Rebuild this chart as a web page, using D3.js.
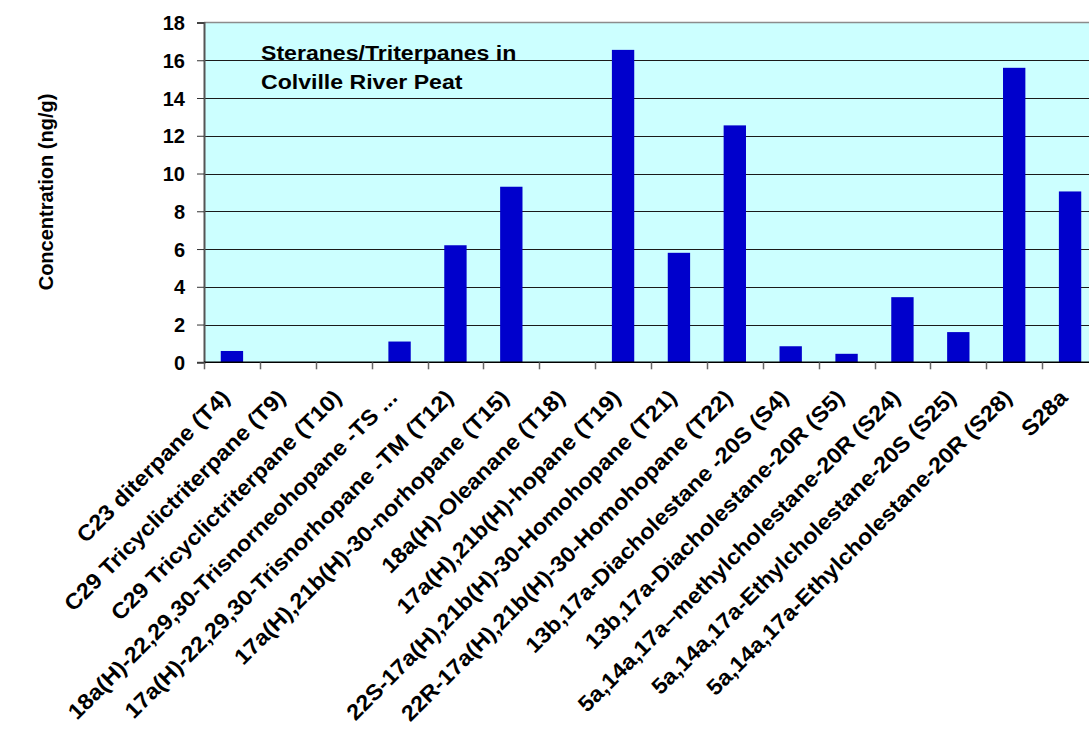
<!DOCTYPE html>
<html>
<head>
<meta charset="utf-8">
<script src="https://cdn.jsdelivr.net/npm/d3@7"></script>
<style>
  html, body { margin: 0; padding: 0; background: #ffffff; }
  svg { display: block; }
  text { font-family: "Liberation Sans", Arial, sans-serif; font-weight: bold; fill: #000; }
</style>
</head>
<body>
<svg id="chart" width="1089" height="729"></svg>
<script>
// Compound categories along the x axis
const categories = [
  "C23 diterpane (T4)",
  "C29 Tricyclictriterpane (T9)",
  "C29 Tricyclictriterpane (T10)",
  "18a(H)-22,29,30-Trisnorneohopane -TS ...",
  "17a(H)-22,29,30-Trisnorhopane -TM (T12)",
  "17a(H),21b(H)-30-norhopane (T15)",
  "18a(H)-Oleanane (T18)",
  "17a(H),21b(H)-hopane (T19)",
  "22S-17a(H),21b(H)-30-Homohopane (T21)",
  "22R-17a(H),21b(H)-30-Homohopane (T22)",
  "13b,17a-Diacholestane -20S (S4)",
  "13b,17a-Diacholestane-20R (S5)",
  "5a,14a,17a\u2013methylcholestane-20R (S24)",
  "5a,14a,17a-Ethylcholestane-20S (S25)",
  "5a,14a,17a-Ethylcholestane-20R (S28)",
  "S28a"
];

// Concentration, ng/g
const concentrations = [0.6, 0, 0, 1.1, 6.2, 9.3, 0, 16.55, 5.8, 12.55, 0.85, 0.45, 3.45, 1.6, 15.6, 9.05];

const yTicks = [0, 2, 4, 6, 8, 10, 12, 14, 16, 18];
const titleLines = ["Steranes/Triterpanes in", "Colville River Peat"];
const yAxisTitle = "Concentration (ng/g)";

const svg = d3.select("#chart");
const plot = { left: 204, right: 1098, top: 22.5, bottom: 362.3 };

const x = d3.scaleBand()
  .domain(categories)
  .range([plot.left, plot.right])
  .paddingInner(0.6)
  .paddingOuter(0.3);

// category boundaries for the tick marks
const xEdge = d3.scaleLinear().domain([0, categories.length]).range([plot.left, plot.right]);

const y = d3.scaleLinear().domain([0, 18]).range([plot.bottom, plot.top]);

// plot background
svg.append("rect")
  .attr("x", plot.left).attr("y", plot.top)
  .attr("width", plot.right - plot.left).attr("height", plot.bottom - plot.top)
  .attr("fill", "#ccffff");

// horizontal gridlines
svg.append("g").selectAll("line")
  .data(yTicks.filter(v => v > 0 && v < 18))
  .join("line")
  .attr("x1", plot.left).attr("x2", plot.right)
  .attr("y1", d => Math.round(y(d)) + 0.5).attr("y2", d => Math.round(y(d)) + 0.5)
  .attr("stroke", "#1a1a1a").attr("stroke-width", 1);

// top border of the plot area
svg.append("line")
  .attr("x1", plot.left).attr("x2", plot.right)
  .attr("y1", y(18)).attr("y2", y(18))
  .attr("stroke", "#8c8c8c").attr("stroke-width", 1.5);

// bars
svg.append("g").selectAll("rect")
  .data(categories.map((c, i) => ({ c, v: concentrations[i] })))
  .join("rect")
  .attr("x", d => x(d.c))
  .attr("width", x.bandwidth())
  .attr("y", d => y(d.v))
  .attr("height", d => y(0) - y(d.v))
  .attr("fill", "#0000cc");

// y axis
const yAxis = d3.axisLeft(y).tickValues(yTicks).tickSize(7).tickPadding(12).tickFormat(d3.format("d"));
const gy = svg.append("g").attr("transform", `translate(${plot.left},0)`).call(yAxis);
gy.select(".domain").attr("stroke", "#555").attr("stroke-width", 2);
gy.selectAll(".tick line").attr("stroke", "#333");
gy.selectAll(".tick text")
  .style("font-size", "20px")
  .attr("dy", "0.36em");

// x axis line and boundary ticks
svg.append("line")
  .attr("x1", plot.left).attr("x2", plot.right)
  .attr("y1", plot.bottom).attr("y2", plot.bottom)
  .attr("stroke", "#000").attr("stroke-width", 1.5);
svg.append("g").selectAll("line")
  .data(d3.range(categories.length + 1))
  .join("line")
  .attr("x1", d => Math.round(xEdge(d)) + 0.5).attr("x2", d => Math.round(xEdge(d)) + 0.5)
  .attr("y1", plot.bottom).attr("y2", plot.bottom + 7)
  .attr("stroke", "#666").attr("stroke-width", 1.5);

// rotated category labels
svg.append("g").selectAll("text")
  .data(categories)
  .join("text")
  .attr("transform", d => `translate(${x(d) + x.bandwidth() / 2 - 1},399) rotate(-45) scale(1.07,1)`)
  .attr("text-anchor", "end")
  .style("font-size", "22px")
  .text(d => d);

// y axis title
svg.append("text")
  .attr("transform", "translate(53,192) rotate(-90)")
  .attr("text-anchor", "middle")
  .style("font-size", "20px")
  .text(yAxisTitle);

// chart title inside the plot
const title = svg.append("text")
  .attr("transform", "translate(261,0) scale(1.1,1)")
  .style("font-size", "21px");
title.selectAll("tspan")
  .data(titleLines)
  .join("tspan")
  .attr("x", 0)
  .attr("y", (d, i) => 60 + i * 29.5)
  .text(d => d);
</script>
</body>
</html>
